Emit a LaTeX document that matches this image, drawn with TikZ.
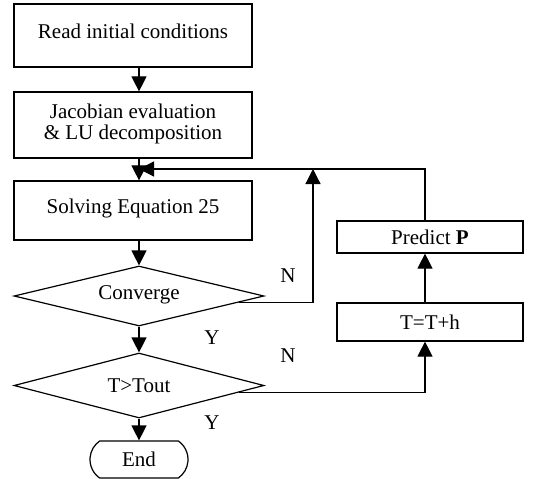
\documentclass[tikz,border=0pt]{standalone}
\usepackage{fontspec}
\setmainfont{Liberation Serif}
\usetikzlibrary{shapes.geometric,shapes.misc,arrows.meta,calc}
\begin{document}
\begin{tikzpicture}[x=1pt,y=-1pt,
  every node/.style={font=\fontsize{21}{22}\selectfont},
  flow/.style={line width=1.2pt,-{Triangle[width=15pt,length=15pt]}},
  box/.style={draw,line width=1.2pt,rectangle,inner sep=0pt,align=center},
  decision/.style={draw,line width=1.2pt,diamond,aspect=4,inner sep=0pt,minimum width=250pt},
  terminal/.style={draw,line width=1.2pt,rounded rectangle,rounded rectangle arc length=110,inner sep=0pt,minimum width=98pt,minimum height=37pt},
  lbl/.style={inner sep=0pt}]
\useasboundingbox (0,0) rectangle (534,478);

% main column
\node[box,minimum width=238pt,minimum height=63pt,text depth=8pt] (read) at (133,35.5) {Read initial conditions};
\node[box,minimum width=238pt,minimum height=66pt,text depth=7pt] (jac) at (133,125) {Jacobian evaluation\\[-1pt]\& LU decomposition};
\node[box,minimum width=238pt,minimum height=59pt,text depth=8pt] (solve) at (133,210.5) {Solving Equation 25};
\node[decision,minimum height=60pt,text depth=7pt] (conv) at (139,296) {Converge};
\node[decision,minimum height=65pt] (tout) at (139,385.5) {T>Tout};
\node[terminal] (end) at (139,459.5) {End};

% right column
\node[box,minimum width=186pt,minimum height=32pt] (pred) at (430,237) {Predict \textbf{P}};
\node[box,minimum width=186pt,minimum height=38pt] (step) at (430,322) {T=T+h};

% corner points of the loops
\coordinate (join) at (313,169);
\coordinate (ret) at (425,169);

% forward flow
\draw[flow] (read.south -| conv) -- (jac.north -| conv);
\draw[flow] (jac.south -| conv) -- (solve.north -| conv);
\draw[flow] (solve.south -| conv) -- (conv.north);
\draw[flow] (conv.south) -- (tout.north);
\draw[flow] (tout.south) -- (end.north);

% not converged: back to solving
\draw[flow] ($(conv.east)!0.2!(conv.south)$) -| (join);
% time loop
\draw[flow] ($(tout.east)!0.2!(tout.south)$) -| (step.south -| ret);
\draw[flow] (step.north -| ret) -- (pred.south -| ret);
\draw[flow] (pred.north -| ret) -- (ret) -- (ret -| conv);

% branch labels
\node[lbl] (n1) at (288,276) {N};
\node[lbl] (y1) at (212,338) {Y};
\node[lbl] (n2) at (288,356) {N};
\node[lbl] (y2) at (212,423) {Y};
\end{tikzpicture}
\end{document}
